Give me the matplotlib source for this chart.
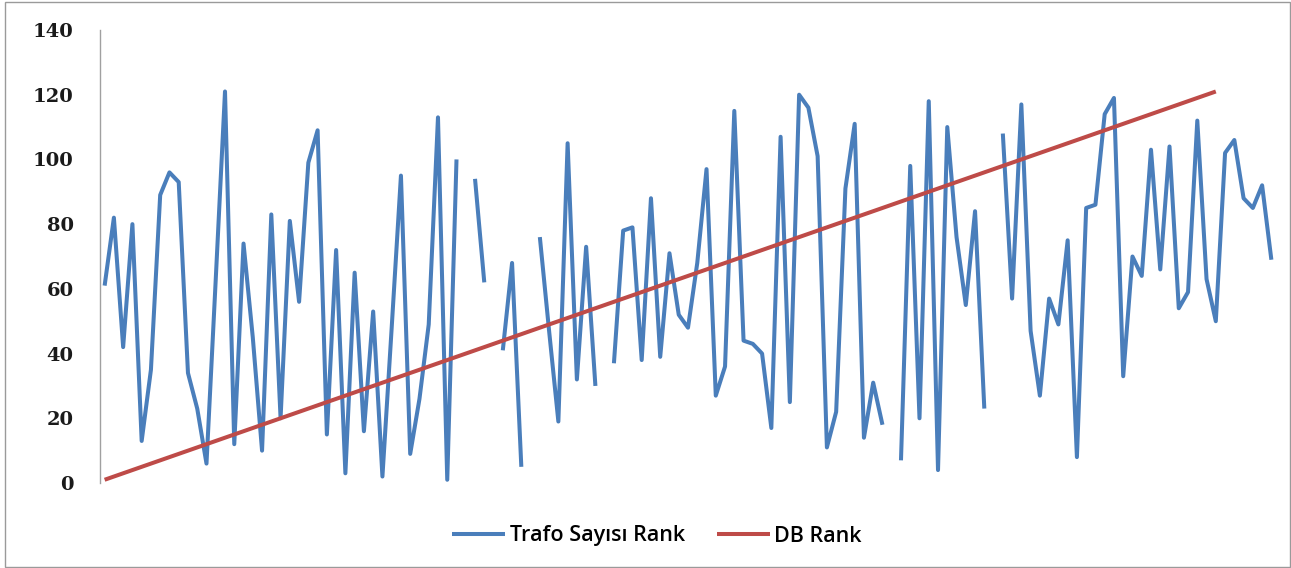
import matplotlib
matplotlib.use("Agg")
import matplotlib.pyplot as plt
import numpy as np
from matplotlib.patches import Rectangle

# Category index (1..127)
categories = list(range(1, 128))

# Trafo Sayısı Rank (None = missing value -> gap)
trafo_rank = [
    61, 82, 42, 80, 13, 35, 89, 96, 93, 34,
    23, 6, 63, 121, 12, 74, 45, 10, 83, 20,
    81, 56, 99, 109, 15, 72, 3, 65, 16, 53,
    2, 48, 95, 9, 26, 49, 113, 1, 100, None,
    94, 62, None, 41, 68, 5, None, 76, 47, 19,
    105, 32, 73, 30, None, 37, 78, 79, 38, 88,
    39, 71, 52, 48, 68, 97, 27, 36, 115, 44,
    43, 40, 17, 107, 25, 120, 116, 101, 11, 22,
    91, 111, 14, 31, 18, None, 7, 98, 20, 118,
    4, 110, 76, 55, 84, 23, None, 108, 57, 117,
    47, 27, 57, 49, 75, 8, 85, 86, 114, 119,
    33, 70, 64, 103, 66, 104, 54, 59, 112, 63,
    50, 102, 106, 88, 85, 92, 69,
]

# DB Rank (1..121)
db_rank = list(range(1, 122))

y_ticks = [0, 20, 40, 60, 80, 100, 120, 140]

W, H = 1291, 568
fig = plt.figure(figsize=(W / 100, H / 100), dpi=100)
fig.patch.set_facecolor("white")

# outer chart frame
fig.add_artist(Rectangle((5 / W, 0.002), 1 - 6 / W, 1 - 3 / H, transform=fig.transFigure,
                         fill=False, edgecolor="#9a9a9a", linewidth=1.0))

ax = fig.add_axes([100 / W, 1 - 483 / H, (1276 - 100) / W, (483 - 30) / H])

x_t = np.array(categories, dtype=float)
y_t = np.array([np.nan if v is None else v for v in trafo_rank], dtype=float)
ax.plot(x_t, y_t, color="#4A7EBB", linewidth=2.9, solid_joinstyle="round",
        solid_capstyle="butt", label="Trafo Sayısı Rank", zorder=2)

x_d = np.array(categories[:len(db_rank)], dtype=float)
ax.plot(x_d, db_rank, color="#BE4B48", linewidth=2.9, solid_capstyle="butt",
        label="DB Rank", zorder=3)

ax.set_xlim(0.5, len(categories) + 0.5)
ax.set_ylim(0, 140)
ax.set_yticks(y_ticks)
ax.set_yticklabels([str(t) for t in y_ticks], fontfamily="DejaVu Serif",
                   fontweight="bold", fontsize=14, color="#1a1a1a")
ax.tick_params(axis="y", length=0, pad=19)
ax.set_xticks([])
for s in ["top", "right", "bottom"]:
    ax.spines[s].set_visible(False)
ax.spines["left"].set_color("#a0a0a0")
ax.spines["left"].set_linewidth(1.0)

leg = fig.legend(loc="center", bbox_to_anchor=(657 / W, 1 - 536 / H), ncol=2,
                 frameon=False, handlelength=2.45, handletextpad=0.22,
                 columnspacing=1.5,
                 prop={"family": "Open Sans", "size": 15.5, "weight": "semibold"})
for line in leg.get_lines():
    line.set_linewidth(2.9)

fig.savefig("out.png", dpi=100, facecolor="white")
